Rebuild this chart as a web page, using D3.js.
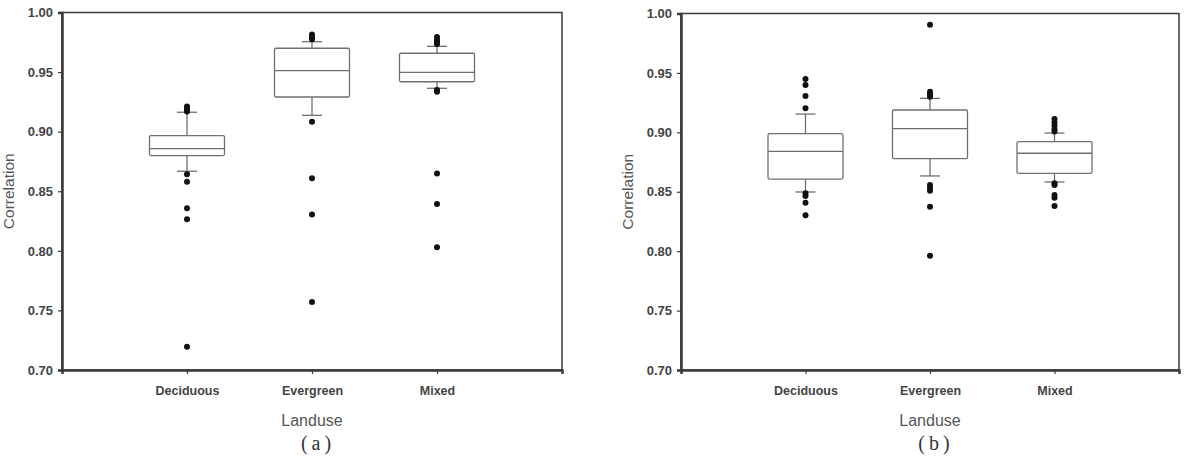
<!DOCTYPE html>
<html lang="en">

<head>
  <meta charset="UTF-8">
  <title>boxplot</title>
  <script src="https://cdn.jsdelivr.net/npm/d3@7"></script>
  <style>
    body { margin: 0; background: #fff; }
  </style>
</head>

<body>
  <svg width="1188" height="456"></svg>
  <script>
    var categories = ['Deciduous', 'Evergreen', 'Mixed']
    var yTicks = [0.70, 0.75, 0.80, 0.85, 0.90, 0.95, 1.00]

    // panel (a): [whiskerLow, q1, median, q3, whiskerHigh]
    var statsA = [
      [0.8668, 0.8799, 0.8857, 0.8966, 0.9163],
      [0.9137, 0.9291, 0.9512, 0.9700, 0.9755],
      [0.9364, 0.9419, 0.9498, 0.9658, 0.9716]
    ]
    var outliersA = [
      [0.9212, 0.9195, 0.9180, 0.9170, 0.8642, 0.8580, 0.8357, 0.8265, 0.7196],
      [0.9815, 0.9795, 0.9775, 0.9084, 0.8610, 0.8304, 0.7571],
      [0.9795, 0.9770, 0.9750, 0.9735, 0.9350, 0.9336, 0.8648, 0.8393, 0.8030]
    ]

    // panel (b)
    var statsB = [
      [0.8498, 0.8607, 0.8840, 0.8989, 0.9154],
      [0.8633, 0.8778, 0.9031, 0.9188, 0.9286],
      [0.8582, 0.8655, 0.8824, 0.8921, 0.8994]
    ]
    var outliersB = [
      [0.9449, 0.9398, 0.9306, 0.9202, 0.8487, 0.8464, 0.8408, 0.8302],
      [0.9906, 0.9342, 0.9320, 0.9300, 0.8557, 0.8534, 0.8509, 0.8374, 0.7962],
      [0.9112, 0.9084, 0.9056, 0.9026, 0.9006, 0.8571, 0.8557, 0.8473, 0.8450, 0.8380]
    ]

    var svg = d3.select('svg')
    var axisColor = '#3a3a3a'
    var boxColor = '#707070'
    var font = 'Liberation Sans, Arial, sans-serif'

    function drawPanel(opt) {
      var x = d3.scalePoint()
        .domain(categories)
        .range([opt.left, opt.right])
        .padding(1)
      var y = d3.scaleLinear()
        .domain([0.70, 1.00])
        .range([opt.bottom, opt.top])

      var g = svg.append('g')

      // frame
      g.append('rect')
        .attr('x', opt.left)
        .attr('y', opt.top)
        .attr('width', opt.right - opt.left)
        .attr('height', opt.bottom - opt.top)
        .attr('fill', 'none')
        .attr('stroke', axisColor)
        .attr('stroke-width', 1.5)

      var yAxis = g.append('g')
        .attr('transform', `translate(${opt.left},0)`)
        .call(d3.axisLeft(y).tickValues(yTicks).tickFormat(d3.format('.2f')).tickSize(4).tickPadding(5))
      yAxis.select('.domain').attr('stroke', axisColor).attr('stroke-width', 2.5)
      yAxis.selectAll('.tick line').attr('stroke', axisColor).attr('stroke-width', 1.2)
      yAxis.selectAll('.tick text')
        .attr('fill', '#444')
        .style('font', `bold 13px ${font}`)

      var xAxis = g.append('g')
        .attr('transform', `translate(0,${opt.bottom})`)
        .call(d3.axisBottom(x).tickSize(4).tickPadding(12))
      xAxis.select('.domain').attr('stroke', axisColor).attr('stroke-width', 2.5)
      xAxis.selectAll('.tick line').attr('stroke', axisColor).attr('stroke-width', 1.2)
      xAxis.selectAll('.tick text')
        .attr('fill', '#444')
        .style('font', `bold 12.5px ${font}`)

      var bw = 75
      var cap = 20
      var boxes = g.selectAll('g.box')
        .data(opt.stats)
        .enter()
        .append('g')
        .attr('class', 'box')
        .attr('transform', (d, i) => `translate(${x(categories[i])},0)`)
        .attr('stroke', boxColor)
        .attr('stroke-width', 1.3)
        .attr('fill', 'none')

      // whiskers
      boxes.append('line')
        .attr('y1', d => y(d[0])).attr('y2', d => y(d[1]))
      boxes.append('line')
        .attr('y1', d => y(d[3])).attr('y2', d => y(d[4]))
      boxes.append('line')
        .attr('x1', -cap / 2).attr('x2', cap / 2)
        .attr('y1', d => y(d[0])).attr('y2', d => y(d[0]))
      boxes.append('line')
        .attr('x1', -cap / 2).attr('x2', cap / 2)
        .attr('y1', d => y(d[4])).attr('y2', d => y(d[4]))
      boxes.append('rect')
        .attr('x', -bw / 2)
        .attr('width', bw)
        .attr('y', d => y(d[3]))
        .attr('height', d => y(d[1]) - y(d[3]))
        .attr('rx', 1.5)
      boxes.append('line')
        .attr('x1', -bw / 2).attr('x2', bw / 2)
        .attr('y1', d => y(d[2])).attr('y2', d => y(d[2]))

      // outliers
      g.selectAll('g.out')
        .data(opt.outliers)
        .enter()
        .append('g')
        .attr('class', 'out')
        .attr('transform', (d, i) => `translate(${x(categories[i])},0)`)
        .selectAll('circle')
        .data(d => d)
        .enter()
        .append('circle')
        .attr('cy', d => y(d))
        .attr('r', 3)
        .attr('fill', '#111')

      var cx = (opt.left + opt.right) / 2
      g.append('text')
        .attr('x', cx)
        .attr('y', opt.bottom + 56)
        .attr('text-anchor', 'middle')
        .attr('fill', '#555')
        .style('font', `16px ${font}`)
        .text('Landuse')

      g.append('text')
        .attr('transform', `translate(${opt.left - 48},${(opt.top + opt.bottom) / 2}) rotate(-90)`)
        .attr('text-anchor', 'middle')
        .attr('fill', '#555')
        .style('font', `15.5px ${font}`)
        .text('Correlation')

      g.append('text')
        .attr('x', cx + 6)
        .attr('y', opt.bottom + 80)
        .attr('text-anchor', 'middle')
        .attr('fill', '#333')
        .attr('letter-spacing', 4)
        .style('font', '20px Liberation Serif, serif')
        .text(opt.label)
    }

    drawPanel({ left: 62, right: 562, top: 12.5, bottom: 370, stats: statsA, outliers: outliersA, label: '(a)' })
    drawPanel({ left: 681, right: 1179, top: 13.5, bottom: 370, stats: statsB, outliers: outliersB, label: '(b)' })
  </script>
</body>

</html>
